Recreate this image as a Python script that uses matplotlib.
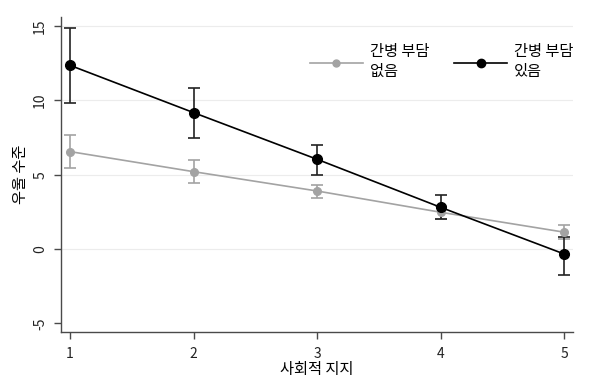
import matplotlib.pyplot as plt
from matplotlib.lines import Line2D

plt.rcParams["font.family"] = ["Noto Sans CJK KR", "DejaVu Sans"]

support = [1, 2, 3, 4, 5]

# 간병 부담 없음
no_burden = [6.55, 5.2, 3.9, 2.47, 1.13]
no_burden_lo = [5.47, 4.46, 3.43, 2.0, 0.65]
no_burden_hi = [7.69, 5.96, 4.3, 2.9, 1.59]

# 간병 부담 있음
burden = [12.35, 9.17, 6.03, 2.8, -0.34]
burden_lo = [9.84, 7.49, 4.98, 2.0, -1.73]
burden_hi = [14.85, 10.85, 7.0, 3.63, 0.83]

y_ticks = [-5, 0, 5, 10, 15]
legend_labels = ["간병 부담\n없음", "간병 부담\n있음"]

GRAY = "#a3a3a3"
BLACK = "#000000"
AXIS = "#4a4a4a"


def draw_series(ax, y, lo, hi, color, ms, err_color):
    ax.errorbar(
        support, y,
        yerr=[[v - l for v, l in zip(y, lo)], [h - v for v, h in zip(y, hi)]],
        fmt="none", ecolor=err_color, elinewidth=1.2, capsize=4.5, capthick=1.2,
        zorder=3,
    )
    ax.plot(support, y, color=color, lw=1.2, marker="o", ms=ms,
            markerfacecolor=color, markeredgecolor=color, zorder=4)


fig = plt.figure(figsize=(6, 3.92), dpi=100)
ax = fig.add_axes([61 / 600, 60 / 392, 512 / 600, 315 / 392])

for t in [0, 5, 10, 15]:
    ax.axhline(t, color="#ececec", lw=0.8, zorder=0)

draw_series(ax, no_burden, no_burden_lo, no_burden_hi, GRAY, 5.5, GRAY)
draw_series(ax, burden, burden_lo, burden_hi, BLACK, 7, "#222222")

ax.set_xlim(0.927, 5.07)
ax.set_ylim(-5.58, 15.6)
ax.set_xticks(support)
ax.set_yticks(y_ticks)
ax.set_yticklabels([str(t) for t in y_ticks], rotation=90, va="center")

for side in ["top", "right"]:
    ax.spines[side].set_visible(False)
for side in ["left", "bottom"]:
    ax.spines[side].set_color(AXIS)
    ax.spines[side].set_linewidth(1.0)
ax.tick_params(axis="both", colors=AXIS, length=5, width=1.0, labelsize=10,
               labelcolor="#222222")
ax.tick_params(axis="y", pad=5)
ax.tick_params(axis="x", pad=6)

ax.set_xlabel("사회적 지지", fontsize=11, labelpad=0)
ax.set_ylabel("우울 수준", fontsize=11, labelpad=3)

handles = [
    Line2D([0], [0], color=GRAY, lw=1.2, marker="o", ms=5),
    Line2D([0], [0], color=BLACK, lw=1.2, marker="o", ms=6),
]
ax.legend(handles, legend_labels, ncol=2, frameon=False, loc="upper right",
          bbox_to_anchor=(1.028, 0.96), fontsize=11, handlelength=3.5,
          columnspacing=1.6, handletextpad=0.45, labelspacing=0.2)

fig.savefig("out.png", dpi=100, facecolor="white")
